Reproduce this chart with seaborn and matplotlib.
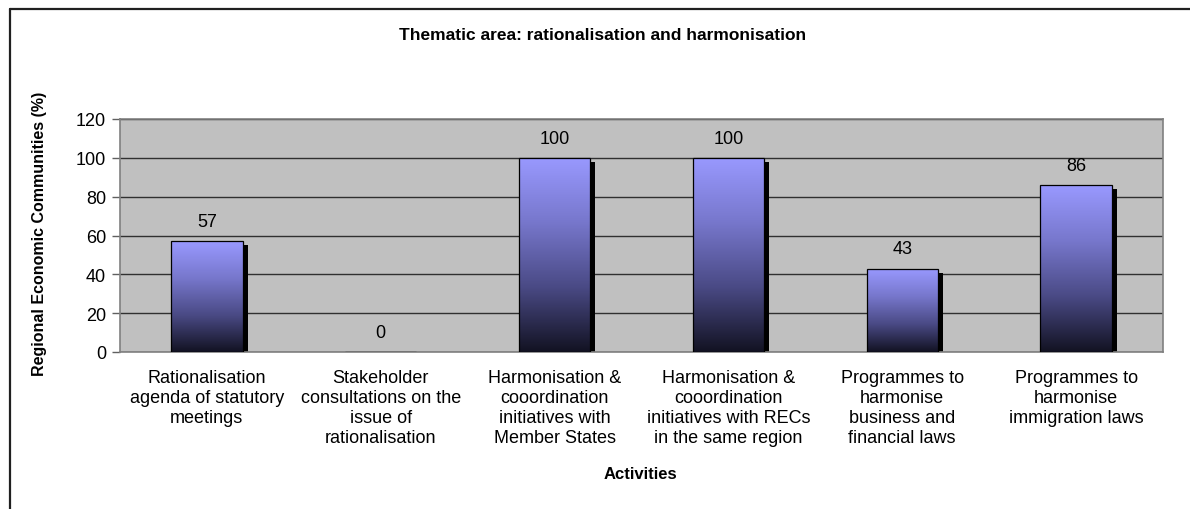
import numpy as np
import pandas as pd
import matplotlib
matplotlib.use("Agg")
import matplotlib.pyplot as plt
import seaborn as sns
from matplotlib.colors import LinearSegmentedColormap
from matplotlib.patches import Rectangle
from matplotlib.lines import Line2D

# ---- data ----
categories = [
    "Rationalisation\nagenda of statutory\nmeetings",
    "Stakeholder\nconsultations on the\nissue of\nrationalisation",
    "Harmonisation &\ncooordination\ninitiatives with\nMember States",
    "Harmonisation &\ncooordination\ninitiatives with RECs\nin the same region",
    "Programmes to\nharmonise\nbusiness and\nfinancial laws",
    "Programmes to\nharmonise\nimmigration laws",
]
values = [57, 0, 100, 100, 43, 86]
y_ticks = [0, 20, 40, 60, 80, 100, 120]
title = "Thematic area: rationalisation and harmonisation"
y_label = "Regional Economic Communities (%)"
x_label = "Activities"

df = pd.DataFrame({"activity": categories, "value": values})

sns.set_style("white")
plt.rcParams["font.family"] = ["Liberation Sans", "DejaVu Sans"]
plt.rcParams["text.color"] = "black"
plt.rcParams["xtick.color"] = "black"
plt.rcParams["ytick.color"] = "black"

W, H = 1190, 510
fig = plt.figure(figsize=(W / 100, H / 100), dpi=100)
ax = fig.add_axes([120 / W, 1 - 353 / H, (1163 - 120) / W, (353 - 120) / H])
ax.set_facecolor("#c0c0c0")

sns.barplot(data=df, x="activity", y="value", color="#9999ff", width=0.41,
            edgecolor="black", linewidth=0.9, ax=ax, zorder=3)

ax.set_ylim(0, 120)
ax.set_xlim(-0.5, len(categories) - 0.5)
ax.set_yticks(y_ticks)
ax.set_yticklabels([str(t) for t in y_ticks], fontsize=13)
ax.set_xticks(range(len(categories)))
ax.set_xticklabels(categories, fontsize=13, linespacing=1.25)
ax.set_xticks(np.arange(-0.5, len(categories), 1.0), minor=True)
ax.tick_params(axis="x", which="major", length=0, pad=12)
ax.tick_params(axis="x", which="minor", length=6, width=1, color="#606060", direction="out")
ax.tick_params(axis="y", length=6, width=1, color="#606060", labelcolor="black",
               direction="out", pad=4, left=True)
ax.tick_params(axis="x", labelcolor="black")
ax.set_xlabel("")
ax.set_ylabel("")

ax.yaxis.grid(True, color="#303030", linewidth=1)
ax.set_axisbelow(True)
for s in ax.spines.values():
    s.set_color("#808080")
    s.set_linewidth(1.2)

cmap = LinearSegmentedColormap.from_list("grad", ["#121222", "#4a4a85", "#7777cc", "#9999ff"])
grad = np.linspace(0, 1, 256).reshape(-1, 1)

px_x = (len(categories)) / (1163 - 120)
px_y = 120 / (353 - 120)
for patch, v in zip(ax.patches, values):
    x, w, h = patch.get_x(), patch.get_width(), patch.get_height()
    if h > 0:
        shadow = Rectangle((x + 5 * px_x, 0), w, h - 4 * px_y, facecolor="black",
                           edgecolor="none", zorder=2.5)
        ax.add_patch(shadow)
        im = ax.imshow(grad, cmap=cmap, aspect="auto", origin="lower",
                       extent=[x, x + w, 0, h], zorder=3.2)
        im.set_clip_path(patch)
        patch.set_facecolor("none")
        patch.set_zorder(3.5)
    ax.annotate(str(v), (x + w / 2, h), xytext=(0, 8), textcoords="offset points",
                ha="center", va="bottom", fontsize=13, color="black")

fig.text(603 / W, 1 - 35 / H, title, ha="center", va="center", fontsize=12.5, fontweight="bold")
fig.text(640 / W, 1 - 475 / H, x_label, ha="center", va="center", fontsize=12, fontweight="bold")
fig.text(40 / W, 1 - 234 / H, y_label, ha="center", va="center", rotation=90,
         fontsize=11.5, fontweight="bold")

# outer frame lines
fig.add_artist(Line2D([10 / W, 1], [1 - 10 / H, 1 - 10 / H], transform=fig.transFigure,
                      color="#202020", linewidth=1.6))
fig.add_artist(Line2D([10 / W, 10 / W], [1 - 10 / H, 0], transform=fig.transFigure,
                      color="#202020", linewidth=1.6))

fig.savefig("out.png", dpi=100, facecolor="white")
